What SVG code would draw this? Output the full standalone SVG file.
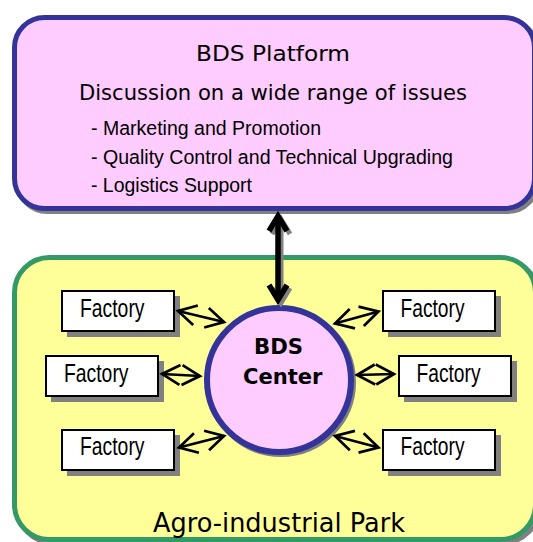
<svg xmlns="http://www.w3.org/2000/svg" width="533" height="542" viewBox="0 0 533 542">
<style>
.t{font-family:"DejaVu Sans","Liberation Sans",sans-serif;fill:#000}
.n{font-family:"Liberation Sans",Arial,sans-serif;fill:#000}
.b{font-family:"DejaVu Sans","Liberation Sans",sans-serif;font-weight:bold;fill:#000}
.fbox{fill:#fff;stroke:#000;stroke-width:2}
.fsh{fill:#808080}
.thin{stroke:#000;stroke-width:2.7;fill:none;marker-start:url(#ah);marker-end:url(#ah)}
</style>
<defs>
<marker id="ah" markerUnits="userSpaceOnUse" viewBox="0 0 20 20" markerWidth="20" markerHeight="20" refX="19" refY="10" orient="auto-start-reverse" overflow="visible">
<path d="M1,0 L19,10 L1,20" fill="none" stroke="#000" stroke-width="2.7"/>
</marker>
</defs>
<rect width="533" height="542" fill="#fff"/>
<g id="platform">
<rect x="17.5" y="20.5" width="520" height="191" rx="30" fill="none" stroke="#808080" stroke-width="5"/>
<rect x="14.5" y="17.5" width="520" height="191" rx="30" fill="#FFCCFF" stroke="#333399" stroke-width="5"/>
<text class="t" x="196" y="61" font-size="22" textLength="154" lengthAdjust="spacingAndGlyphs">BDS Platform</text>
<text class="t" x="79" y="100" font-size="22" textLength="388" lengthAdjust="spacingAndGlyphs">Discussion on a wide range of issues</text>
<text class="n" x="91" y="135" font-size="20" textLength="230" lengthAdjust="spacingAndGlyphs">- Marketing and Promotion</text>
<text class="n" x="91" y="164" font-size="20" textLength="362" lengthAdjust="spacingAndGlyphs">- Quality Control and Technical Upgrading</text>
<text class="n" x="91" y="192" font-size="20" textLength="161" lengthAdjust="spacingAndGlyphs">- Logistics Support</text>
</g>
<g id="park">
<rect x="17.5" y="260.5" width="521" height="282" rx="35" fill="none" stroke="#808080" stroke-width="5"/>
<rect x="14.5" y="257.5" width="521" height="282" rx="35" fill="#FFFF99" stroke="#339966" stroke-width="5"/>
<text class="t" x="153" y="532" font-size="27" textLength="252" lengthAdjust="spacingAndGlyphs">Agro-industrial Park</text>
</g>
<g id="bds-center">
<circle cx="281" cy="382" r="72" fill="none" stroke="#808080" stroke-width="6"/>
<circle cx="279" cy="380" r="72" fill="#FFCCFF" stroke="#333399" stroke-width="6"/>
<text class="b" x="254" y="354" font-size="22" textLength="49" lengthAdjust="spacingAndGlyphs">BDS</text>
<text class="b" x="243" y="384" font-size="22" textLength="79.5" lengthAdjust="spacingAndGlyphs">Center</text>
</g>
<g id="factory-tl">
<rect class="fsh" x="67" y="296" width="113" height="41"/>
<rect class="fbox" x="62" y="291" width="112" height="40"/>
<text class="n" x="80" y="317" font-size="25" textLength="64.5" lengthAdjust="spacingAndGlyphs">Factory</text>
</g>
<g id="factory-ml">
<rect class="fsh" x="51" y="361" width="113" height="41"/>
<rect class="fbox" x="46" y="356" width="112" height="40"/>
<text class="n" x="64" y="382" font-size="25" textLength="64.5" lengthAdjust="spacingAndGlyphs">Factory</text>
</g>
<g id="factory-bl">
<rect class="fsh" x="67" y="435" width="113" height="41"/>
<rect class="fbox" x="62" y="430" width="112" height="40"/>
<text class="n" x="80" y="455" font-size="25" textLength="64.5" lengthAdjust="spacingAndGlyphs">Factory</text>
</g>
<g id="factory-tr">
<rect class="fsh" x="388" y="296" width="113" height="41"/>
<rect class="fbox" x="383" y="291" width="112" height="40"/>
<text class="n" x="400.5" y="317" font-size="25" textLength="64" lengthAdjust="spacingAndGlyphs">Factory</text>
</g>
<g id="factory-mr">
<rect class="fsh" x="404" y="361" width="113" height="41"/>
<rect class="fbox" x="399" y="356" width="112" height="40"/>
<text class="n" x="416.5" y="382" font-size="25" textLength="64" lengthAdjust="spacingAndGlyphs">Factory</text>
</g>
<g id="factory-br">
<rect class="fsh" x="388" y="435" width="113" height="41"/>
<rect class="fbox" x="383" y="430" width="112" height="40"/>
<text class="n" x="400.5" y="455" font-size="25" textLength="64" lengthAdjust="spacingAndGlyphs">Factory</text>
</g>
<g id="connectors">
<g fill="none" stroke="#808080" stroke-width="5" stroke-linejoin="miter">
<path d="M281,219 L281,303"/>
<path d="M272,234 L281,219 L290,234"/>
<path d="M272,288 L281,303 L290,288"/>
</g>
<g fill="none" stroke="#000" stroke-width="5.5" stroke-linejoin="miter">
<path d="M278,216 L278,300"/>
<path d="M269,231 L278,216 L287,231"/>
<path d="M269,285 L278,300 L287,285"/>
</g>
<line class="thin" x1="178" y1="311" x2="224" y2="322"/>
<line class="thin" x1="162" y1="374" x2="200" y2="376"/>
<line class="thin" x1="179" y1="447.5" x2="224" y2="436"/>
<line class="thin" x1="335" y1="323.5" x2="378.5" y2="311.5"/>
<line class="thin" x1="357" y1="375" x2="394" y2="374"/>
<line class="thin" x1="335" y1="436" x2="378.5" y2="447.5"/>
</g>
</svg>
